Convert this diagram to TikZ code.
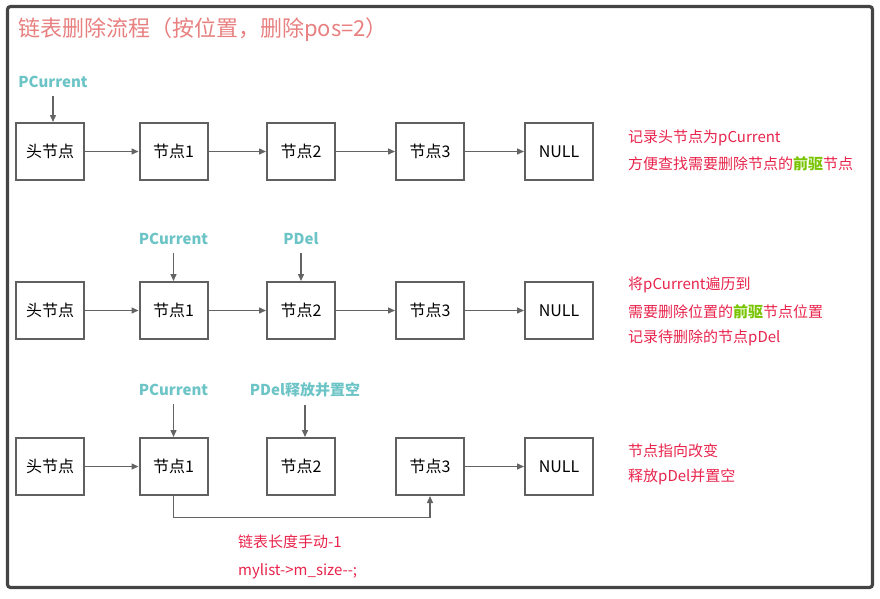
\documentclass[tikz,border=0pt]{standalone}
\usepackage{fontspec}
\setmainfont{Noto Sans CJK SC}
\usetikzlibrary{arrows.meta}
\definecolor{framegray}{RGB}{68,68,68}
\definecolor{boxgray}{RGB}{96,96,96}
\definecolor{linegray}{RGB}{100,100,100}
\definecolor{titlered}{RGB}{232,128,128}
\definecolor{ptrteal}{RGB}{108,196,198}
\definecolor{notered}{RGB}{232,36,76}
\definecolor{keygreen}{RGB}{120,196,0}

\begin{document}
\begin{tikzpicture}[x=1pt,y=-1pt,
    box/.style={draw=boxgray,line width=2pt,minimum width=68pt,minimum height=57pt,
      inner sep=0pt,font=\fontsize{16}{19}\selectfont},
    arr/.style={draw=linegray,line width=1.4pt,-{Triangle[length=7pt,width=6pt]}},
    ptr/.style={text=ptrteal,inner sep=0pt,font=\bfseries\fontsize{15}{18}\selectfont},
    note/.style={text=notered,anchor=west,inner sep=0pt,font=\fontsize{15}{18}\selectfont}]
  \useasboundingbox (0,0) rectangle (880,598);
  \draw[framegray,line width=3.2pt,rounded corners=3pt] (7.5,6.5) rectangle (872.5,587.5);

  \node[text=titlered,anchor=west,inner sep=0pt,font=\fontsize{22}{26}\selectfont] (title) at (18,30)
    {链表删除流程（按位置，删除pos=2）};

  % row 1
  \node[box] (h1) at (50,151.5) {头节点};
  \node[box] (a1) at (173.5,151.5) {节点1};
  \node[box] (b1) at (301,151.5) {节点2};
  \node[box] (c1) at (430,151.5) {节点3};
  \node[box] (n1) at (559,151.5) {NULL};
  \draw[arr] (h1) -- (a1);
  \draw[arr] (a1) -- (b1);
  \draw[arr] (b1) -- (c1);
  \draw[arr] (c1) -- (n1);
  \node[ptr] (pc1) at (53,82) {PCurrent};
  \draw[arr,shorten <=8pt] (pc1.south) -- (pc1.south |- h1.north);
  \node[note] (t11) at (628,138) {记录头节点为pCurrent};
  \node[note] (t12) at (628,164) {方便查找需要删除节点的\textcolor{keygreen}{\bfseries 前驱}节点};

  % row 2
  \node[box] (h2) at (50,310.5) {头节点};
  \node[box] (a2) at (173.5,310.5) {节点1};
  \node[box] (b2) at (301,310.5) {节点2};
  \node[box] (c2) at (430,310.5) {节点3};
  \node[box] (n2) at (559,310.5) {NULL};
  \draw[arr] (h2) -- (a2);
  \draw[arr] (a2) -- (b2);
  \draw[arr] (b2) -- (c2);
  \draw[arr] (c2) -- (n2);
  \node[ptr] (pc2) at (173.5,239) {PCurrent};
  \node[ptr] (pd2) at (301,239) {PDel};
  \draw[arr,shorten <=8pt] (pc2.south) -- (pc2.south |- a2.north);
  \draw[arr,shorten <=8pt] (pd2.south) -- (pd2.south |- b2.north);
  \node[note] (t21) at (628,285) {将pCurrent遍历到};
  \node[note] (t22) at (628,312) {需要删除位置的\textcolor{keygreen}{\bfseries 前驱}节点位置};
  \node[note] (t23) at (628,338) {记录待删除的节点pDel};

  % row 3
  \node[box] (h3) at (50,466.5) {头节点};
  \node[box] (a3) at (173.5,466.5) {节点1};
  \node[box] (b3) at (301,466.5) {节点2};
  \node[box] (c3) at (430,466.5) {节点3};
  \node[box] (n3) at (559,466.5) {NULL};
  \draw[arr] (h3) -- (a3);
  \draw[arr] (c3) -- (n3);
  \draw[arr] (a3.south) -- ++(0,21.5) -| (c3.south);
  \node[ptr] (pc3) at (173.5,390) {PCurrent};
  \node[ptr] (pd3) at (305,390) {PDel释放并置空};
  \draw[arr,shorten <=8pt] (pc3.south) -- (pc3.south |- a3.north);
  \draw[arr,shorten <=8pt] (pd3.south) -- (pd3.south |- b3.north);
  \node[note] (t31) at (628,451) {节点指向改变};
  \node[note] (t32) at (628,477) {释放pDel并置空};
  \node[note] (t33) at (238,542) {链表长度手动-1};
  \node[note] (t34) at (238,571) {mylist-{}>m\_size-{}-;};
\end{tikzpicture}
\end{document}
